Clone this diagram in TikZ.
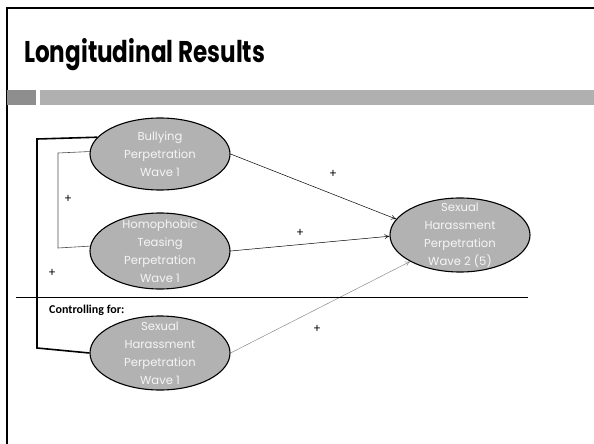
\documentclass[tikz,border=0pt]{standalone}
\usepackage{fontspec}
\usepackage{tikz}
\usetikzlibrary{shapes,arrows,positioning,arrows.meta}
\newfontfamily\gothic{Poppins}
\newfontfamily\gothicnarrow[FakeStretch=0.77]{Poppins}
\newfontfamily\calib{Carlito}
\definecolor{blobgray}{HTML}{B2B2B2}
\definecolor{bargray}{HTML}{B0B0B0}
\definecolor{blockgray}{HTML}{8E8E8E}

\begin{document}
\begin{tikzpicture}[x=1pt,y=-1pt,
    blob/.style={ellipse, draw=black, line width=1.1pt, fill=blobgray, minimum width=140pt, minimum height=72pt, inner sep=0pt},
    blobtext/.style={text=white!96!black, font=\gothic\fontsize{11.6}{18}\selectfont, align=center},
    path/.style={->, >={To[length=5pt,width=5pt]}, line width=0.5pt},
    plus/.style={font=\calib\fontsize{13}{14}\selectfont, inner sep=0pt}]
    \useasboundingbox (0,0) rectangle (594,444);

    % Slide frame and title bar
    \draw[line width=2.6pt] (7,444) -- (7,8) -- (594,8);
    \node[anchor=base west, inner sep=0pt, font=\gothicnarrow\bfseries\fontsize{30}{32}\selectfont] (title) at (24,63) {Longitudinal Results};
    \fill[blockgray] (7,90) rectangle (36,105);
    \fill[bargray] (40,90) rectangle (594,105);

    % Predictors
    \node[blob, label={[blobtext]center:Bullying\\Perpetration\\Wave 1}] (bully) at (160,154) {};
    \node[blob, minimum height=76pt, label={[blobtext]center:Homophobic\\Teasing\\Perpetration\\Wave 1}] (homo) at (160,251) {};
    \node[blob, minimum height=74pt, label={[blobtext]center:Sexual\\Harassment\\Perpetration\\Wave 1}] (sexone) at (160,353) {};

    % Outcome
    \node[blob, minimum height=74pt, label={[blobtext]center:Sexual\\Harassment\\Perpetration\\Wave 2 (5)}] (sextwo) at (460,235) {};

    % Paths
    \draw[path] (bully.east) -- (sextwo.166);
    \draw[path] (homo.east) -- (sextwo.181);
    \draw[path, black!45] (sexone.east) -- (sextwo.208);
    \node[plus] (pa) at (333,174) {+};
    \node[plus] (pb) at (300,233) {+};
    \node[plus] (pc) at (317,329) {+};

    % Correlations among predictors
    \coordinate (intop) at (58,153);
    \coordinate (inbot) at (58,248);
    \draw[black!70, line width=0.6pt] (bully.178) -- (intop) -- (inbot) -- (homo.176);
    \coordinate (outtop) at (37,139);
    \coordinate (outbot) at (37,348);
    \draw[line width=1.6pt] (bully.165) -- (outtop) -- (outbot) -- (sexone.west);
    \node[plus] (pd) at (68,199) {+};
    \node[plus] (pe) at (52,273) {+};

    % Covariate
    \draw[line width=0.8pt] (16,297) -- (528,297);
    \node[anchor=base west, inner sep=0pt, font=\calib\bfseries\fontsize{12}{13}\selectfont] (ctrl) at (49,313) {Controlling for:};
\end{tikzpicture}
\end{document}
